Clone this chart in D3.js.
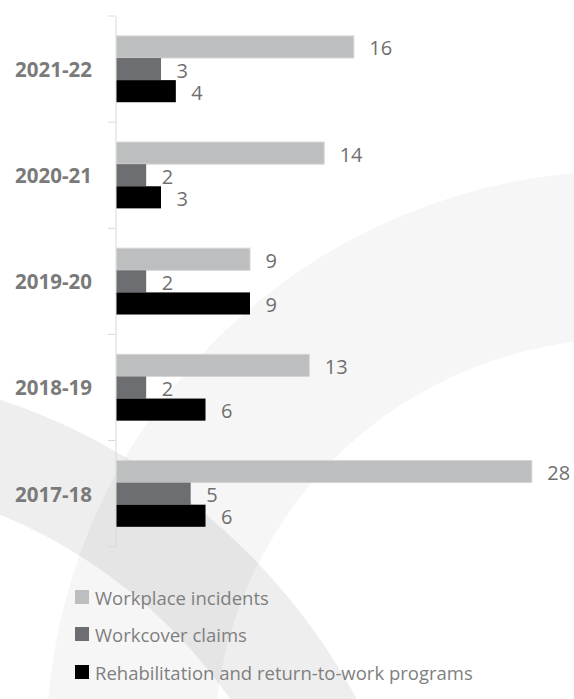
<!DOCTYPE html>
<html>
<head>
<meta charset="utf-8">
<script src="https://cdn.jsdelivr.net/npm/d3@7"></script>
<style>
	html, body { margin: 0; padding: 0; background: #fff; }
	svg { display: block; font-family: "Open Sans", sans-serif; }
</style>
</head>
<body>
<div id="chart"></div>
<script>
// Chart data
const categories = ["2021-22", "2020-21", "2019-20", "2018-19", "2017-18"];
const seriesNames = ["Workplace incidents", "Workcover claims", "Rehabilitation and return-to-work programs"];
const workplaceIncidents = [16, 14, 9, 13, 28];
const workcoverClaims = [3, 2, 2, 2, 5];
const rehabPrograms = [4, 3, 9, 6, 6];
const seriesColors = ["#bdbec0", "#6d6e71", "#000000"];

const seriesValues = [workplaceIncidents, workcoverClaims, rehabPrograms];

const W = 574, H = 699;

const svg = d3.select("#chart")
	.append("svg")
	.attr("width", W)
	.attr("height", H);

// Faint watermark rings behind the chart
const ring = d3.arc().startAngle(0).endAngle(2 * Math.PI);
svg.append("path")
	.attr("transform", "translate(624,749)")
	.attr("d", ring({innerRadius: 410, outerRadius: 578}))
	.attr("fill", "#000")
	.attr("fill-opacity", 0.035);
svg.append("path")
	.attr("transform", "translate(-200,1000)")
	.attr("d", ring({innerRadius: 525, outerRadius: 633}))
	.attr("fill", "#000")
	.attr("fill-opacity", 0.065);

// Scales
const x = d3.scaleLinear()
	.domain([0, 30])
	.range([116, 561]);

const y0 = d3.scaleBand()
	.domain(categories)
	.range([16, 546.7]);

const y1 = d3.scaleBand()
	.domain(seriesNames)
	.range([0, y0.bandwidth()])
	.paddingOuter(0.9);

// Category axis (left)
const yAxis = svg.append("g")
	.attr("transform", "translate(115.5,0)")
	.call(d3.axisLeft(y0).tickSize(0).tickFormat(""));
yAxis.select(".domain").attr("stroke", "#d9d9d9");
yAxis.selectAll(".tick").remove();

// tick marks at band boundaries
const bounds = categories.map(c => y0(c)).concat([y0(categories[categories.length - 1]) + y0.bandwidth()]);
svg.selectAll(".btick")
	.data(bounds)
	.enter()
	.append("line")
	.attr("x1", 108)
	.attr("x2", 115.5)
	.attr("y1", d => d)
	.attr("y2", d => d)
	.attr("stroke", "#d9d9d9")
	.attr("stroke-width", 1);

svg.selectAll(".cat")
	.data(categories)
	.enter()
	.append("text")
	.attr("x", 92)
	.attr("y", d => y0(d) + y0.bandwidth() / 2)
	.attr("text-anchor", "end")
	.attr("dominant-baseline", "central")
	.attr("font-size", 20.5)
	.attr("font-weight", "bold")
	.attr("fill", "#7a7a7a")
	.text(d => d);

// Bars and value labels
seriesNames.forEach((name, si) => {
	const vals = seriesValues[si];
	const g = svg.append("g");
	g.selectAll("rect")
		.data(categories)
		.enter()
		.append("rect")
		.attr("x", x(0) + 0.5)
		.attr("y", c => y0(c) + y1(name))
		.attr("width", (c, i) => x(vals[i]) - x(0))
		.attr("height", y1.bandwidth())
		.attr("fill", seriesColors[si])
		.attr("stroke", si === 0 ? "#d6d6d6" : "none")
		.attr("stroke-width", 1);

	g.selectAll("text")
		.data(categories)
		.enter()
		.append("text")
		.attr("x", (c, i) => x(vals[i]) + 16)
		.attr("y", c => y0(c) + y1(name) + y1.bandwidth() / 2 + 1)
		.attr("dominant-baseline", "central")
		.attr("font-size", 20)
		.attr("fill", "#6f6f6f")
		.text((c, i) => vals[i]);
});

// Legend
const legendY = [597, 634, 672];
const legend = svg.append("g");
seriesNames.forEach((name, si) => {
	legend.append("rect")
		.attr("x", 75)
		.attr("y", legendY[si] - 7)
		.attr("width", 14)
		.attr("height", 14)
		.attr("fill", seriesColors[si]);
	legend.append("text")
		.attr("x", 95)
		.attr("y", legendY[si])
		.attr("dominant-baseline", "central")
		.attr("font-size", 18.5)
		.attr("fill", "#7f7f7f")
		.text(name);
});
</script>
</body>
</html>
